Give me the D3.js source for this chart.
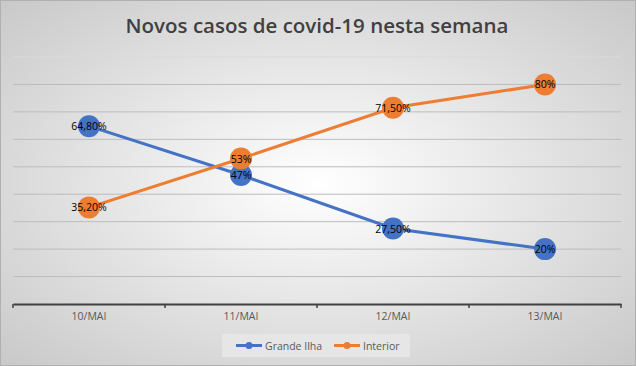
<!DOCTYPE html>
<html><head><meta charset="utf-8">
<script src="https://cdn.jsdelivr.net/npm/d3@7"></script>
<style>body{margin:0;}svg{display:block;}</style>
</head><body>
<script>
const categories = ["10/MAI","11/MAI","12/MAI","13/MAI"];
const seriesNames = ["Grande Ilha","Interior"];
const grandeIlha = [64.8, 47, 27.5, 20];
const interior = [35.2, 53, 71.5, 80];
const labelsGrande = ["64,80%","47%","27,50%","20%"];
const labelsInterior = ["35,20%","53%","71,50%","80%"];
const yTicks = [0,10,20,30,40,50,60,70,80,90];
const colors = ["#4472C4","#ED7D31"];

const W=636,H=366;
const svg=d3.select("body").append("svg").attr("width",W).attr("height",H);
const defs=svg.append("defs");
const rg=defs.append("radialGradient").attr("id","bg").attr("cx","50%").attr("cy","50%").attr("r","70%");
rg.append("stop").attr("offset","0%").attr("stop-color","#ffffff");
rg.append("stop").attr("offset","100%").attr("stop-color","#c9c9c9");
svg.append("rect").attr("x",0.5).attr("y",0.5).attr("width",W-1).attr("height",H-1).attr("fill","url(#bg)").attr("stroke","#b0b0b0");

svg.append("text").attr("x",317).attr("y",33).attr("text-anchor","middle")
 .attr("font-family","Open Sans").attr("font-weight","600").attr("font-size",20.5).attr("fill","#404040")
 .text("Novos casos de covid-19 nesta semana");

const x=d3.scaleBand().domain(categories).range([13,621]);
const y=d3.scaleLinear().domain([0,90]).range([304,57]);

svg.append("g").selectAll("line").data(yTicks.filter(d=>d>0)).join("line")
 .attr("x1",13).attr("x2",621).attr("y1",d=>y(d)).attr("y2",d=>y(d))
 .attr("stroke",d=>d===90?"#dadada":"#bcbcbc").attr("stroke-width",1);

const ax=svg.append("g").attr("transform","translate(0,304)")
 .call(d3.axisBottom(x).tickSize(0).tickPadding(9));
ax.select(".domain").attr("stroke","#404040").attr("stroke-width",2);
ax.selectAll("text").attr("font-family","Open Sans").attr("font-size",10.5).attr("fill","#595959");
const bounds=[13].concat(categories.map(c=>x(c)+x.bandwidth()));
ax.append("g").selectAll("line").data(bounds).join("line")
 .attr("x1",d=>d).attr("x2",d=>d).attr("y1",0).attr("y2",4).attr("stroke","#404040").attr("stroke-width",1.5);

const series=[{v:grandeIlha,l:labelsGrande,c:colors[0]},{v:interior,l:labelsInterior,c:colors[1]}];
const line=d3.line().x((d,i)=>x(categories[i])+x.bandwidth()/2).y(d=>y(d));
series.forEach(s=>{
  svg.append("path").attr("d",line(s.v)).attr("fill","none").attr("stroke",s.c).attr("stroke-width",3).attr("stroke-linecap","round");
});
series.forEach(s=>{
  svg.append("g").selectAll("circle").data(s.v).join("circle")
   .attr("cx",(d,i)=>x(categories[i])+x.bandwidth()/2).attr("cy",d=>y(d)).attr("r",11).attr("fill",s.c);
});
series.forEach(s=>{
  svg.append("g").selectAll("text").data(s.v).join("text")
   .attr("x",(d,i)=>x(categories[i])+x.bandwidth()/2).attr("y",d=>y(d)+4)
   .attr("text-anchor","middle").attr("font-family","Open Sans").attr("font-size",10.5).attr("fill","#000")
   .text((d,i)=>s.l[i]);
});

const lg=svg.append("g");
lg.append("rect").attr("x",222).attr("y",334).attr("width",188).attr("height",23).attr("fill","#e6e6e6");
const items=[{n:seriesNames[0],c:colors[0],x:236},{n:seriesNames[1],c:colors[1],x:334}];
items.forEach(it=>{
  lg.append("line").attr("x1",it.x).attr("x2",it.x+26).attr("y1",345.5).attr("y2",345.5).attr("stroke",it.c).attr("stroke-width",3);
  lg.append("circle").attr("cx",it.x+13).attr("cy",345.5).attr("r",3.5).attr("fill",it.c);
  lg.append("text").attr("x",it.x+29).attr("y",349.5).attr("font-family","Open Sans").attr("font-size",10.5).attr("fill","#595959").text(it.n);
});
</script>
</body></html>
